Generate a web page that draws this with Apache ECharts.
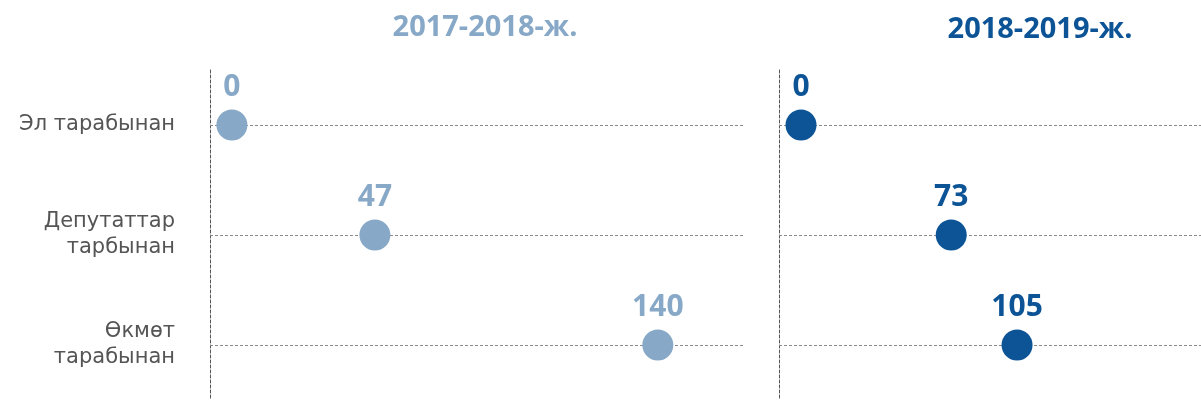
<!DOCTYPE html>
<html>
<head>
<meta charset="utf-8">
<script src="https://cdn.jsdelivr.net/npm/echarts@6/dist/echarts.min.js"></script>
<style>
  html, body { margin: 0; padding: 0; background: #ffffff; }
  #chart { width: 1201px; height: 403px; }
</style>
</head>
<body>
<div id="chart"></div>
<script>
// Row labels (top to bottom)
const categories = ['Эл тарабынан', 'Депутаттар\nтарбынан', 'Өкмөт\nтарабынан'];
// Panel headings
const periods = ['2017-2018-ж.', '2018-2019-ж.'];
// Counts per row for each period
const values2017 = [0, 47, 140];
const values2018 = [0, 73, 105];

const colorLight = '#87a8c7';
const colorDark = '#0d5496';
const font = '"Open Sans", "Noto Sans", sans-serif';
const labelFont = '"DejaVu Sans", "Noto Sans", sans-serif';

function rowGuides() {
  return {
    silent: true,
    symbol: ['none', 'none'],
    label: { show: false },
    lineStyle: { color: '#8a8a8a', type: [3, 2], width: 1 },
    emphasis: { disabled: true },
    data: categories.map(c => ({ yAxis: c }))
  };
}

function pointSeries(idx, values, color) {
  return {
    type: 'scatter',
    xAxisIndex: idx,
    yAxisIndex: idx,
    symbolSize: 31,
    z: 5,
    itemStyle: { color: color, opacity: 1 },
    label: {
      show: true,
      position: 'top',
      distance: 7,
      color: color,
      fontFamily: font,
      fontWeight: 700,
      fontSize: 30
    },
    markLine: rowGuides(),
    data: values.map((v, i) => [v, categories[i]])
  };
}

function catAxis(idx, showLabels) {
  return {
    type: 'category',
    gridIndex: idx,
    inverse: true,
    data: categories.map((c, i) => i === 0
      ? { value: c, textStyle: { padding: [0, 0, 9, 0] } }
      : c),
    axisLine: { show: true, onZero: false, lineStyle: { color: '#555', type: [3, 2], width: 1 } },
    axisTick: { show: false },
    splitLine: { show: false },
    axisLabel: {
      show: showLabels,
      margin: 35,
      align: 'right',
      color: '#555',
      fontFamily: labelFont,
      fontWeight: 'normal',
      fontSize: 21,
      lineHeight: 26
    }
  };
}

function valAxis(idx, min, max) {
  return {
    type: 'value',
    gridIndex: idx,
    min: min,
    max: max,
    show: false
  };
}

const chart = echarts.init(document.getElementById('chart'), null, { renderer: 'canvas' });

chart.setOption({
  animation: false,
  backgroundColor: '#ffffff',
  grid: [
    { left: 210, width: 533, top: 70, bottom: 3 },
    { left: 779, right: 0, top: 70, bottom: 3 }
  ],
  xAxis: [valAxis(0, -7.2, 168), valAxis(1, -10.7, 194.4)],
  yAxis: [catAxis(0, true), catAxis(1, false)],
  graphic: [
    {
      type: 'text', x: 485, y: 28,
      style: {
        text: periods[0], fill: colorLight, align: 'center', verticalAlign: 'middle',
        font: '700 29px ' + font
      }
    },
    {
      type: 'text', x: 1040, y: 30,
      style: {
        text: periods[1], fill: colorDark, align: 'center', verticalAlign: 'middle',
        font: '700 29px ' + font
      }
    }
  ],
  series: [
    pointSeries(0, values2017, colorLight),
    pointSeries(1, values2018, colorDark)
  ]
});
</script>
</body>
</html>
